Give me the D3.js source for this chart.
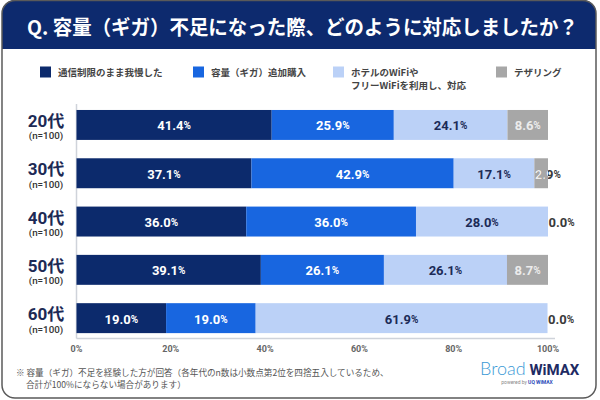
<!DOCTYPE html>
<html>
<head>
<meta charset="utf-8">
<script src="https://d3js.org/d3.v7.min.js"></script>
<style>
  body, html { margin: 0; padding: 0; background: #fff; }
  svg { display: block; font-family: Roboto, 'Noto Sans CJK JP', sans-serif; }
  .legend text { font-size: 9.5px; font-weight: bold; fill: #444; }
  .tick-label { font-size: 9px; font-weight: bold; fill: #666; text-anchor: middle; }
  .note { font-size: 8.6px; fill: #555; }
</style>
</head>
<body>
<div id="chart"></div>
<script>
  var title = "Q. 容量（ギガ）不足になった際、どのように対応しましたか？";
  var ages = ["20代", "30代", "40代", "50代", "60代"];
  var sampleSizes = ["(n=100)", "(n=100)", "(n=100)", "(n=100)", "(n=100)"];
  var seriesNames = ["通信制限のまま我慢した", "容量（ギガ）追加購入", "ホテルのWiFiや|フリーWiFiを利用し、対応", "テザリング"];
  var gaman = [41.4, 37.1, 36.0, 39.1, 19.0];
  var tsuika = [25.9, 42.9, 36.0, 26.1, 19.0];
  var wifi = [24.1, 17.1, 28.0, 26.1, 61.9];
  var tethering = [8.6, 2.9, 0.0, 8.7, 0.0];
  var xTicks = [0, 20, 40, 60, 80, 100];
  var notes = ["※ 容量（ギガ）不足を経験した方が回答（各年代のn数は小数点第2位を四捨五入しているため、",
               "合計が100%にならない場合があります）"];

  var colors = ["#0c2a6c", "#1866e0", "#bbd1f7", "#a7a7a7"];
  var labelColors = ["#ffffff", "#ffffff", "#1c2b57", "#ececec"];
  var keys = ["s0", "s1", "s2", "s3"];

  var rows = ages.map((a, i) => ({ age: a, s0: gaman[i], s1: tsuika[i], s2: wifi[i], s3: tethering[i] }));
  var stacked = d3.stack().keys(keys)(rows);

  var W = 600, H = 400;
  var svg = d3.select("#chart").append("svg").attr("width", W).attr("height", H);

  // frame + header
  var clip = svg.append("defs").append("clipPath").attr("id", "frame");
  clip.append("rect").attr("x", 2).attr("y", 0).attr("width", 594).attr("height", 398).attr("rx", 13);
  svg.append("rect").attr("x", 2).attr("y", 0).attr("width", 594).attr("height", 49)
    .attr("fill", "#0d2a6e").attr("clip-path", "url(#frame)");
  svg.append("rect").attr("x", 2).attr("y", 0.5).attr("width", 594).attr("height", 397.5).attr("rx", 13)
    .attr("fill", "none").attr("stroke", "#5a5a5a").attr("stroke-width", 1.5);
  svg.append("text").attr("x", 27).attr("y", 35).text(title)
    .attr("fill", "#fff").attr("font-size", 20).attr("font-weight", "bold")
    .attr("font-family", "'Noto Sans CJK JP', sans-serif")
    .attr("textLength", 551).attr("lengthAdjust", "spacingAndGlyphs");

  // legend
  var legendX = [40, 193, 333, 496];
  var lg = svg.append("g").attr("class", "legend");
  seriesNames.forEach((name, i) => {
    lg.append("rect").attr("x", legendX[i]).attr("y", 66.5).attr("width", 11).attr("height", 11).attr("fill", colors[i]);
    name.split("|").forEach((line, j) => {
      lg.append("text").attr("x", legendX[i] + 18).attr("y", 75.5 + j * 13).text(line)
        .attr("font-family", "'Noto Sans CJK JP', sans-serif");
    });
  });

  var x = d3.scaleLinear().domain([0, 100]).range([76.5, 548]);
  var y = d3.scaleBand().domain(ages).range([100.8, 342.3]).paddingInner(0.38).paddingOuter(0.19);

  // axis lines
  svg.append("line").attr("x1", x(0)).attr("x2", x(0)).attr("y1", 104).attr("y2", 338.5)
    .attr("stroke", "#cfd3da").attr("stroke-width", 1.5);
  svg.append("line").attr("x1", x(0)).attr("x2", 555).attr("y1", 338.5).attr("y2", 338.5)
    .attr("stroke", "#cfd3da").attr("stroke-width", 1.5);

  svg.append("g").selectAll("text").data(xTicks).join("text")
    .attr("class", "tick-label").attr("x", d => x(d)).attr("y", 352).text(d => d + "%");

  // category labels
  var cat = svg.append("g").selectAll("g").data(ages).join("g");
  cat.append("text").attr("x", 46).attr("y", d => y(d) + 17).attr("text-anchor", "middle")
    .attr("font-size", 17).attr("font-weight", "bold").attr("fill", "#1d2a55").text(d => d);
  cat.append("text").attr("x", 46).attr("y", (d, i) => y(d) + 29.5).attr("text-anchor", "middle")
    .attr("font-size", 9.8).attr("font-weight", 500).attr("fill", "#333").text((d, i) => sampleSizes[i]);

  // bars
  var layer = svg.append("g").selectAll("g").data(stacked).join("g").attr("fill", (d, i) => colors[i]);
  layer.selectAll("rect").data(d => d).join("rect")
    .attr("x", d => x(d[0])).attr("width", d => x(d[1]) - x(d[0]))
    .attr("y", d => y(d.data.age)).attr("height", y.bandwidth());

  // value labels
  var defs = svg.select("defs");
  function addLabel(g, tx, ty, v, anchor, color) {
    var t = g.append("text").attr("x", tx).attr("y", ty).attr("text-anchor", anchor)
      .attr("font-size", 13).attr("font-weight", "bold").attr("fill", color)
      .attr("dominant-baseline", "central");
    t.append("tspan").text(v.toFixed(1));
    t.append("tspan").attr("font-size", 10).text("%");
    return t;
  }
  var lbl = svg.append("g");
  stacked.forEach((s, si) => {
    s.forEach((d, di) => {
      var v = d[1] - d[0];
      var cy = y(d.data.age) + y.bandwidth() / 2 + 0.5;
      if (v >= 5) {
        addLabel(lbl, (x(d[0]) + x(d[1])) / 2, cy, v, "middle", labelColors[si]);
      } else {
        addLabel(lbl, x(d[0]) + 0.5, cy, v, "start", "#3a3a3a");
        if (v > 0) {
          var id = "clip" + si + "_" + di;
          defs.append("clipPath").attr("id", id).append("rect")
            .attr("x", x(d[0])).attr("y", y(d.data.age)).attr("width", x(d[1]) - x(d[0])).attr("height", y.bandwidth());
          addLabel(lbl, x(d[0]) + 0.5, cy, v, "start", labelColors[si]).attr("clip-path", "url(#" + id + ")");
        }
      }
    });
  });

  // footnote
  svg.append("text").attr("class", "note").attr("x", 16).attr("y", 376).text(notes[0])
    .attr("font-family", "'Noto Sans CJK JP', sans-serif");
  svg.append("text").attr("class", "note").attr("x", 26).attr("y", 388).text(notes[1])
    .attr("font-family", "'Noto Sans CJK JP', sans-serif");

  // logo
  var logo = svg.append("text").attr("x", 480).attr("y", 375).attr("font-size", 18);
  logo.append("tspan").text("Broad").attr("fill", "#3b9ad6").attr("font-weight", 300).attr("font-family", "Lato, sans-serif");
  logo.append("tspan").text(" WiMAX").attr("fill", "#1e2b63").attr("font-weight", "bold").attr("font-size", 15).attr("font-family", "Roboto, sans-serif");
  var pw = svg.append("text").attr("x", 527).attr("y", 384).attr("text-anchor", "middle").attr("font-size", 5);
  pw.append("tspan").text("powered by ").attr("fill", "#888");
  pw.append("tspan").text("UQ WiMAX").attr("fill", "#2a4bb8").attr("font-weight", "bold");
</script>
</body>
</html>
